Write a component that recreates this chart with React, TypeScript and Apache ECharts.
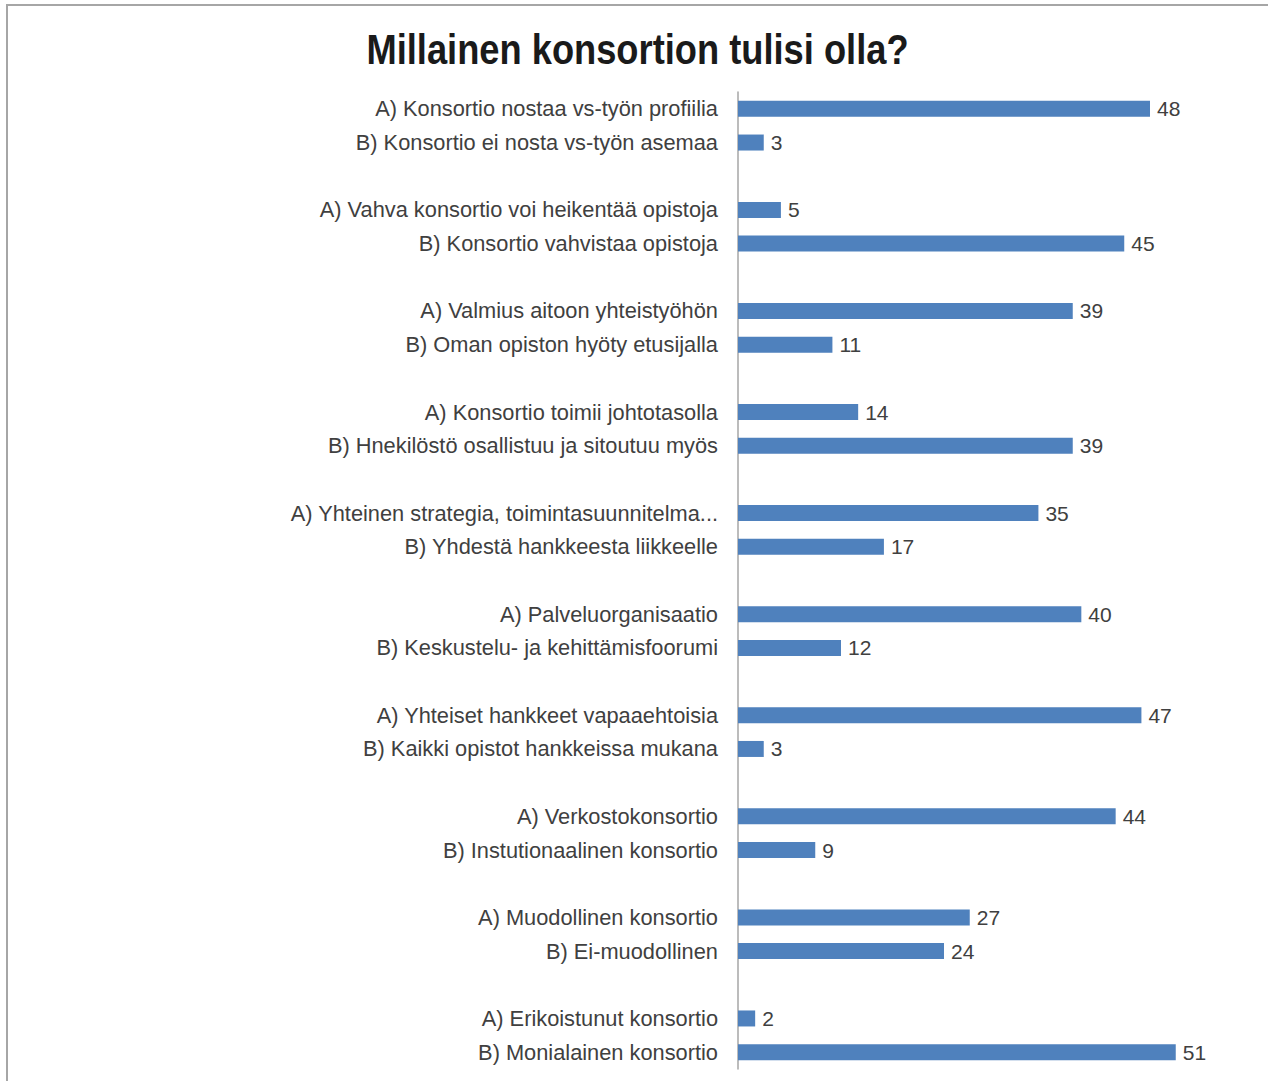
import React, { useEffect, useRef } from "react";
import * as echarts from "echarts";

const TITLE = "Millainen konsortion tulisi olla?";

const categories: string[] = [
  "A) Konsortio nostaa vs-työn profiilia",
  "B) Konsortio ei nosta vs-työn asemaa",
  "__gap1",
  "A) Vahva konsortio voi heikentää opistoja",
  "B) Konsortio vahvistaa opistoja",
  "__gap2",
  "A) Valmius aitoon yhteistyöhön",
  "B) Oman opiston hyöty etusijalla",
  "__gap3",
  "A) Konsortio toimii johtotasolla",
  "B) Hnekilöstö osallistuu ja sitoutuu myös",
  "__gap4",
  "A) Yhteinen strategia, toimintasuunnitelma...",
  "B) Yhdestä hankkeesta liikkeelle",
  "__gap5",
  "A) Palveluorganisaatio",
  "B) Keskustelu- ja kehittämisfoorumi",
  "__gap6",
  "A) Yhteiset hankkeet vapaaehtoisia",
  "B) Kaikki opistot hankkeissa mukana",
  "__gap7",
  "A) Verkostokonsortio",
  "B) Instutionaalinen konsortio",
  "__gap8",
  "A) Muodollinen konsortio",
  "B) Ei-muodollinen",
  "__gap9",
  "A) Erikoistunut konsortio",
  "B) Monialainen konsortio",
];

const values: (number | null)[] = [
  48, 3, null,
  5, 45, null,
  39, 11, null,
  14, 39, null,
  35, 17, null,
  40, 12, null,
  47, 3, null,
  44, 9, null,
  27, 24, null,
  2, 51,
];

const FONT = "'Liberation Sans', Arial, sans-serif";

export default function App() {
  const ref = useRef<HTMLDivElement>(null);
  useEffect(() => {
    if (!ref.current) return;
    const chart = echarts.init(ref.current, undefined, { renderer: "svg" });
    chart.setOption({
      animation: false,
      backgroundColor: "#ffffff",
      graphic: [
        {
          type: "rect",
          shape: { x: 7, y: 5, width: 1300, height: 1120 },
          style: { fill: "none", stroke: "#a6a6a6", lineWidth: 2 },
          silent: true,
        },
        {
          type: "text",
          x: 637.5,
          y: 49,
          scaleX: 0.864,
          silent: true,
          style: {
            text: TITLE,
            fontFamily: FONT,
            fontSize: 42,
            fontWeight: "bold",
            fill: "#1a1a1a",
            align: "center",
            verticalAlign: "middle",
          },
        },
      ],
      grid: { left: 738, top: 92, width: 515, height: 977, containLabel: false },
      xAxis: {
        type: "value",
        min: 0,
        max: 60,
        show: false,
      },
      yAxis: {
        type: "category",
        inverse: true,
        data: categories,
        axisLine: { show: true, lineStyle: { color: "#a6a6a6", width: 1.5 } },
        axisTick: { show: false },
        splitLine: { show: false },
        axisLabel: {
          margin: 20,
          fontFamily: FONT,
          fontSize: 21.8,
          color: "#404040",
          interval: 0,
          formatter: (v: string) => (v.startsWith("__gap") ? "" : v),
        },
      },
      series: [
        {
          type: "bar",
          data: values,
          barWidth: 16,
          itemStyle: { color: "#4f81bd" },
          label: {
            show: true,
            position: "right",
            distance: 7,
            fontFamily: FONT,
            fontSize: 21,
            color: "#404040",
          },
        },
      ],
    });
    return () => chart.dispose();
  }, []);
  return (
    <div
      ref={ref}
      style={{ position: "fixed", left: 0, top: 0, width: 1268, height: 1081 }}
    />
  );
}
